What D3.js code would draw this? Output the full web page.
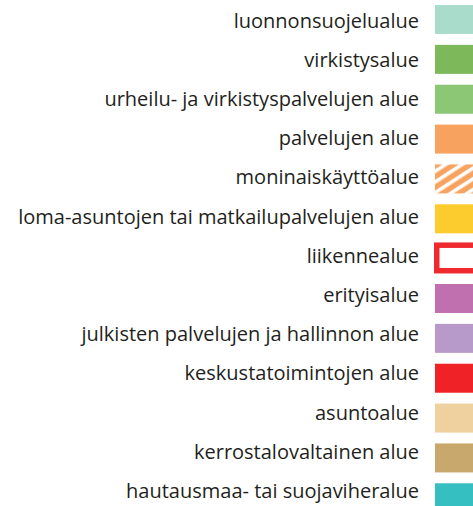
<!DOCTYPE html>
<html lang="fi">
<head>
<meta charset="UTF-8">
<title>Kaavamerkinnät</title>
<script src="https://cdn.jsdelivr.net/npm/d3@7"></script>
<style>
  body { margin: 0; background: #fff; }
</style>
</head>
<body>
<script>
// legend entries, top to bottom
const labels = [
  "luonnonsuojelualue",
  "virkistysalue",
  "urheilu- ja virkistyspalvelujen alue",
  "palvelujen alue",
  "moninaiskäyttöalue",
  "loma-asuntojen tai matkailupalvelujen alue",
  "liikennealue",
  "erityisalue",
  "julkisten palvelujen ja hallinnon alue",
  "keskustatoimintojen alue",
  "asuntoalue",
  "kerrostalovaltainen alue",
  "hautausmaa- tai suojaviheralue"
];
const colors = [
  "#a9dccb", "#7db95b", "#8cc776", "#f7a35f", "#f7a35f", "#fccb2d",
  "#ffffff", "#c170af", "#b89aca", "#ef2327", "#efd09f", "#c9a86e", "#36bfc0"
];
// swatch kind: fill / hatch / outline
const kinds = ["fill", "fill", "fill", "fill", "hatch", "fill",
  "outline", "fill", "fill", "fill", "fill", "fill", "fill"];

const width = 473, height = 506;

const svg = d3.select("body").append("svg")
  .attr("width", width)
  .attr("height", height);

// swatches and labels don't share the exact same spacing in the original
const ySw = d3.scaleBand()
  .domain(labels)
  .range([5, 512.3])
  .paddingInner(0.272)
  .paddingOuter(0);

const yTxt = d3.scalePoint()
  .domain(labels)
  .range([27.7, 498]);

// diagonal hatch for moninaiskäyttöalue
const defs = svg.append("defs");
const pat = defs.append("pattern")
  .attr("id", "hatch")
  .attr("patternUnits", "userSpaceOnUse")
  .attr("width", 9)
  .attr("height", 9)
  .attr("patternTransform", "rotate(-33)");
pat.append("rect")
  .attr("x", 0).attr("y", 1.5)
  .attr("width", 9).attr("height", 5.4)
  .attr("fill", "#f7a35f");

const swX = 435, swW = 40;

const swatches = svg.append("g")
  .selectAll("g")
  .data(labels)
  .join("g")
  .attr("transform", d => `translate(0,${ySw(d)})`);

swatches.each(function(d, i) {
  const g = d3.select(this);
  if (kinds[i] === "outline") {
    g.append("rect")
      .attr("x", swX + 1.75).attr("y", 1.05)
      .attr("width", swW).attr("height", ySw.bandwidth() - 3.5)
      .attr("fill", "#fff")
      .attr("stroke", "#ee2a2f")
      .attr("stroke-width", 5.5);
  } else {
    g.append("rect")
      .attr("x", swX).attr("y", 0)
      .attr("width", swW).attr("height", ySw.bandwidth())
      .attr("fill", kinds[i] === "hatch" ? "url(#hatch)" : colors[i]);
  }
});

svg.append("g")
  .selectAll("text")
  .data(labels)
  .join("text")
  .attr("x", 419)
  .attr("y", d => yTxt(d))
  .attr("text-anchor", "end")
  .attr("fill", "#231f20")
  .style("font-family", "'Open Sans', sans-serif")
  .style("font-size", "20px")
  .text(d => d);
</script>
</body>
</html>
